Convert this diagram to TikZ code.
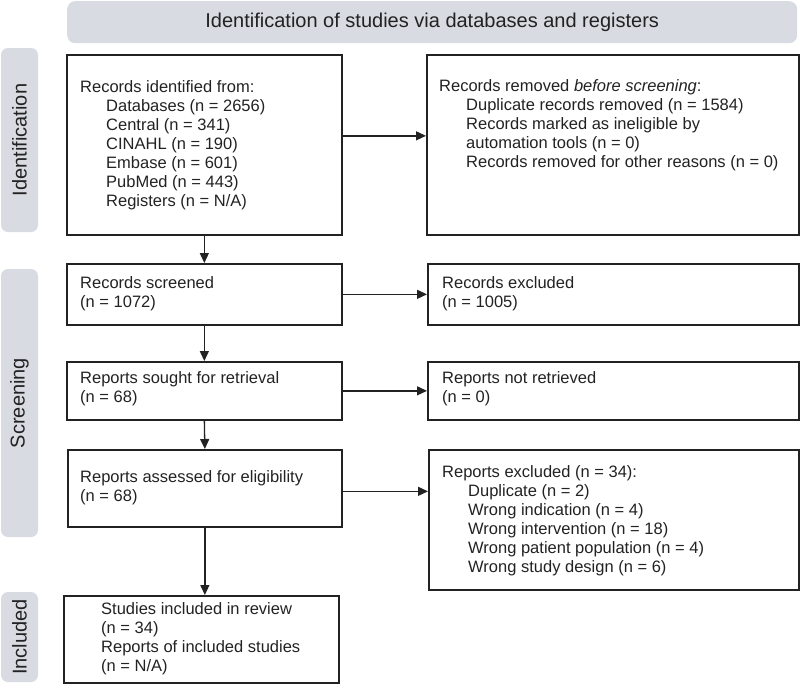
\documentclass[tikz,border=0pt]{standalone}
\usepackage{fontspec}
\setmainfont{Liberation Sans}
\usetikzlibrary{arrows.meta}
\definecolor{bandgray}{RGB}{216,219,226}
\definecolor{ink}{RGB}{34,34,34}
\begin{document}
\begin{tikzpicture}[x=1pt,y=-1pt,
  box/.style={draw=ink, line width=1.7pt, rectangle, inner sep=0pt, anchor=north west},
  txt/.style={anchor=north west, inner sep=0pt, align=left, text=ink, font=\fontsize{16.5}{19}\selectfont},
  band/.style={fill=bandgray, draw=none, rounded corners=8pt, inner sep=0pt, text=ink, font=\fontsize{20}{24}\selectfont},
  side/.style={fill=bandgray, draw=none, rounded corners=7pt, inner sep=0pt, text=ink, rotate=90, font=\fontsize{20}{24}\selectfont},
  arr/.style={draw=ink, line width=1.3pt, -{Triangle[length=10pt,width=9pt]}},
  ]
\useasboundingbox (0,0) rectangle (800,683);
% banner and side bars
\node[band, minimum width=730pt, minimum height=42pt, anchor=north west] (banner) at (67,1) {Identification of studies via databases and registers};
\node[side, minimum width=184pt, minimum height=37pt] (sideid) at (19.5,140) {Identification};
\node[side, minimum width=268pt, minimum height=37pt] (sidescr) at (19.5,403) {Screening};
\node[side, minimum width=90pt, minimum height=37pt] (sideinc) at (19.5,637) {Included};
% boxes
\node[box, minimum width=275pt, minimum height=180pt] (b1) at (66,54) {};
\node[box, minimum width=372pt, minimum height=180pt] (b2) at (426,54) {};
\node[box, minimum width=275pt, minimum height=61pt] (b3) at (66,263) {};
\node[box, minimum width=371pt, minimum height=61pt] (b4) at (427,263) {};
\node[box, minimum width=275pt, minimum height=58pt] (b5) at (66,361) {};
\node[box, minimum width=371pt, minimum height=58pt] (b6) at (427,361) {};
\node[box, minimum width=274pt, minimum height=77pt] (b7) at (67,449) {};
\node[box, minimum width=370pt, minimum height=140pt] (b8) at (428,449) {};
\node[box, minimum width=275pt, minimum height=87pt] (b9) at (63,595) {};
% texts
\node[txt] (t1) at (80,80) {Records identified from:\\
\hspace*{26pt}Databases (n = 2656)\\
\hspace*{26pt}Central (n = 341)\\
\hspace*{26pt}CINAHL (n = 190)\\
\hspace*{26pt}Embase (n = 601)\\
\hspace*{26pt}PubMed (n = 443)\\
\hspace*{26pt}Registers (n = N/A)};
\node[txt] (t2) at (439,79) {Records removed \textit{before screening}:\\
\hspace*{27pt}Duplicate records removed (n = 1584)\\
\hspace*{27pt}Records marked as ineligible by\\
\hspace*{27pt}automation tools (n = 0)\\
\hspace*{27pt}Records removed for other reasons (n = 0)};
\node[txt] (t3) at (80,276) {Records screened\\(n = 1072)};
\node[txt] (t4) at (442,276) {Records excluded\\(n = 1005)};
\node[txt] (t5) at (80,371) {Reports sought for retrieval\\(n = 68)};
\node[txt] (t6) at (442,371) {Reports not retrieved\\(n = 0)};
\node[txt] (t7) at (80,470) {Reports assessed for eligibility\\(n = 68)};
\node[txt] (t8) at (442,465) {Reports excluded (n = 34):\\
\hspace*{26pt}Duplicate (n = 2)\\
\hspace*{26pt}Wrong indication (n = 4)\\
\hspace*{26pt}Wrong intervention (n = 18)\\
\hspace*{26pt}Wrong patient population (n = 4)\\
\hspace*{26pt}Wrong study design (n = 6)};
\node[txt] (t9) at (101,602) {Studies included in review\\(n = 34)\\Reports of included studies\\(n = N/A)};
% connectors
\draw[arr] (b1.south) -- (b3.north);
\draw[arr] (b3.south) -- (b5.north);
\draw[arr] (b5.south) -- (b7.south |- b7.north);
\draw[arr] (b7.south) -- (b7.south |- b9.north);
\draw[arr] ([yshift=9pt]b1.east) -- ([yshift=9pt]b1.east -| b2.west);
\draw[arr] (b3.east) -- (b3.east -| b4.west);
\draw[arr] (b5.east) -- (b5.east -| b6.west);
\draw[arr] ([yshift=-3pt]b7.east) -- ([yshift=-3pt]b7.east -| b8.west);
\end{tikzpicture}
\end{document}
